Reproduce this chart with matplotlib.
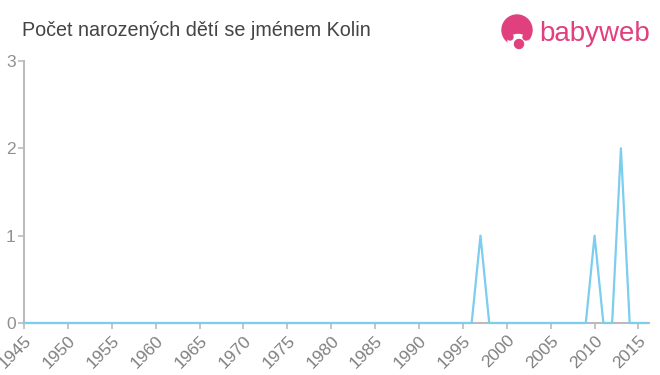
import matplotlib.pyplot as plt
from matplotlib.patches import Circle, Ellipse

years = list(range(1945, 2017))
counts = [
    0, 0, 0, 0, 0, 0, 0, 0, 0, 0,   # 1945-1954
    0, 0, 0, 0, 0, 0, 0, 0, 0, 0,   # 1955-1964
    0, 0, 0, 0, 0, 0, 0, 0, 0, 0,   # 1965-1974
    0, 0, 0, 0, 0, 0, 0, 0, 0, 0,   # 1975-1984
    0, 0, 0, 0, 0, 0, 0, 0, 0, 0,   # 1985-1994
    0, 0, 1, 0, 0, 0, 0, 0, 0, 0,   # 1995-2004
    0, 0, 0, 0, 0, 1, 0, 0, 2, 0,   # 2005-2014
    0, 0,                           # 2015-2016
]
xticks = list(range(1945, 2016, 5))
yticks = [0, 1, 2, 3]
title = "Počet narozených dětí se jménem Kolin"

plt.rcParams["font.family"] = ["Liberation Sans", "DejaVu Sans"]

fig = plt.figure(figsize=(6.6, 3.75), dpi=100)
ax = fig.add_axes([24 / 660, 1 - 323 / 375, 625 / 660, 262 / 375])

ax.plot(years, counts, color="#7ccdee", linewidth=1.6, zorder=3, clip_on=False)

ax.set_xlim(1945, 2016.2)
ax.set_ylim(0, 3)
ax.set_xticks(xticks)
ax.set_xticklabels([str(y) for y in xticks], rotation=45, ha="right",
                   rotation_mode="anchor", fontsize=12.5, color="#808080")
ax.set_yticks(yticks)
ax.set_yticklabels([str(v) for v in yticks], fontsize=12.5, color="#909090")
ax.tick_params(axis="x", length=4, color="#bbbbbb", width=1.2, pad=3)
ax.tick_params(axis="y", length=4, color="#bbbbbb", width=1.2, pad=2)

for side in ["top", "right"]:
    ax.spines[side].set_visible(False)
for side in ["left", "bottom"]:
    ax.spines[side].set_color("#bbbbbb")
    ax.spines[side].set_linewidth(1.5)

fig.text(22 / 660, 1 - 31 / 375, title, fontsize=14.2, color="#444444",
         va="center", ha="left")

# babyweb logo
pink = "#e0407e"
lax = fig.add_axes([0, 0, 1, 1], zorder=5)
lax.set_xlim(0, 660)
lax.set_ylim(375, 0)
lax.axis("off")
lax.add_patch(Circle((517, 30), 15, color=pink))
lax.add_patch(Ellipse((518, 41), 20, 13, color="white"))
lax.add_patch(Circle((510, 37), 3, color=pink))
lax.add_patch(Circle((526, 37), 3, color=pink))
lax.add_patch(Circle((519, 44), 4.5, color=pink))
lax.text(539, 34, "babyweb", fontsize=20, color=pink, va="center", ha="left")

fig.savefig("out.png", dpi=100)
